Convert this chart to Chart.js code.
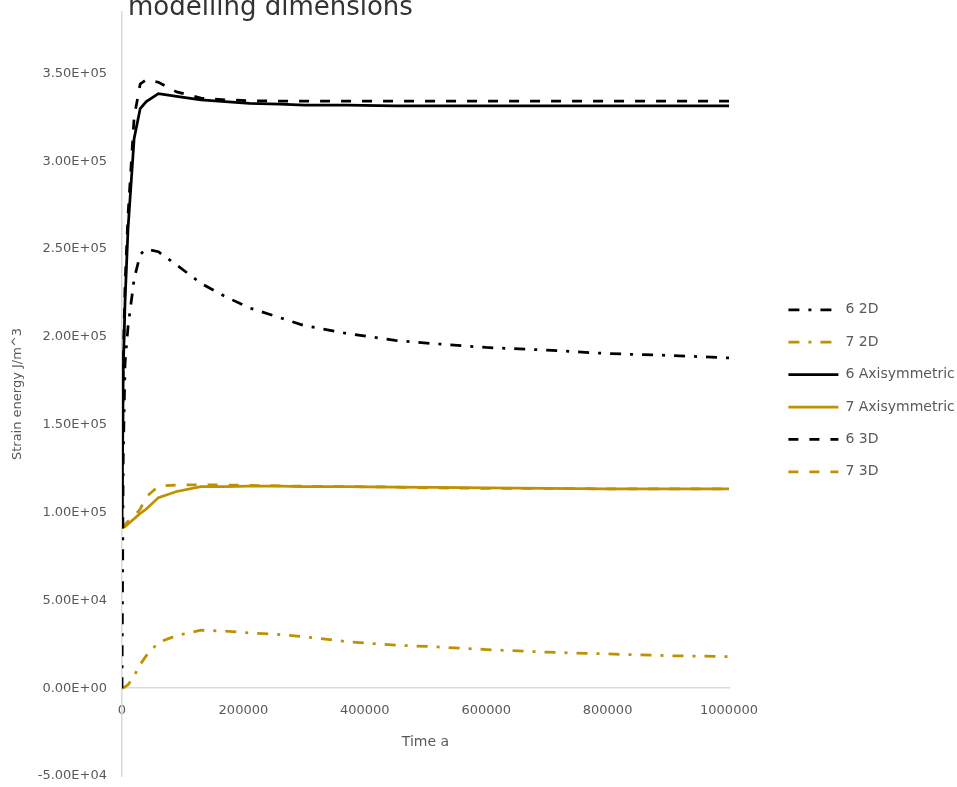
<!DOCTYPE html>
<html>
<head>
<meta charset="utf-8">
<script src="https://cdn.jsdelivr.net/npm/chart.js@4/dist/chart.umd.min.js"></script>
<style>
  html, body { margin: 0; padding: 0; background: #ffffff; }
  #wrap { width: 957px; height: 787px; position: relative; }
</style>
</head>
<body>
<div id="wrap"><canvas id="chart" width="957" height="787"></canvas></div>
<script>
// Time points (a) shared by every series
const times = [0, 2000, 5000, 10000, 20000, 30000, 40000, 60000, 90000, 130000, 170000,
  210000, 260000, 300000, 370000, 450000, 520000, 600000, 700000, 800000, 900000, 1000000];

// Strain energy (J/m^3) for each modelling dimension
const s6_2D = [0, 130000, 185000, 206000, 233000, 247000, 250000, 248500, 241000, 230500, 223000,
  216500, 211000, 206500, 202000, 198000, 196000, 194000, 192500, 190500, 189500, 188000];
const s7_2D = [0, 300, 800, 2000, 7000, 13500, 18500, 26000, 30000, 33000, 32500,
  31500, 30500, 29300, 26500, 24500, 23500, 22000, 20500, 19500, 18500, 18000];
const s6_Axi = [91000, 180000, 220000, 262000, 313000, 330000, 334000, 338500, 337000, 335000, 334000,
  333000, 332500, 332000, 332000, 331500, 331500, 331500, 331500, 331500, 331500, 331500];
const s7_Axi = [91500, 91500, 92000, 93500, 96500, 99500, 102000, 108500, 112000, 114700, 114800,
  115000, 115000, 114800, 114700, 114500, 114300, 114000, 113700, 113500, 113500, 113500];
const s6_3D = [91000, 185000, 230000, 270000, 325000, 344000, 346500, 345000, 339500, 336000, 335000,
  334500, 334300, 334300, 334300, 334300, 334300, 334300, 334300, 334300, 334300, 334300];
const s7_3D = [91500, 92000, 93000, 95000, 98000, 102000, 109000, 115000, 115700, 115700, 115700,
  115500, 115200, 115000, 114800, 114500, 114000, 113800, 113700, 113500, 113500, 113500];

const seriesNames = ['6 2D', '7 2D', '6 Axisymmetric', '7 Axisymmetric', '6 3D', '7 3D'];
const xTicks = [0, 200000, 400000, 600000, 800000, 1000000];
const yTicks = [-50000, 0, 50000, 100000, 150000, 200000, 250000, 300000, 350000];

const BLACK = '#000000';
const GOLD = '#BF9000';
const DASH_DOT = [11, 9, 3, 9];
const DASH = [10, 11];
const FONT = 'DejaVu Sans';
const GREY = '#595959';

function pts(values) {
  return times.map((t, i) => ({ x: t, y: values[i] }));
}

function sci(v) {
  const [m, e] = Number(v).toExponential(2).split('e');
  const sign = e[0] === '-' ? '-' : '+';
  const digits = e.replace(/^[+-]/, '').padStart(2, '0');
  return m + 'E' + sign + digits;
}

function line(label, values, color, dash) {
  return {
    label, data: pts(values), borderColor: color, backgroundColor: color,
    borderWidth: 2.75, borderDash: dash, pointRadius: 0, pointHoverRadius: 0,
    tension: 0, fill: false, yAxisID: 'y', xAxisID: 'x'
  };
}

// Legend entries drawn as short line samples carrying each series' dash pattern
function legendLabels(chart) {
  const items = Chart.defaults.plugins.legend.labels.generateLabels(chart);
  items.forEach(it => {
    const ds = chart.data.datasets[it.datasetIndex];
    it.lineDash = ds.borderDash;
    it.strokeStyle = ds.borderColor;
    it.fillStyle = ds.borderColor;
    it.lineWidth = ds.borderWidth;
    it.pointStyle = 'line';
  });
  return items;
}

// Second line of the chart title, sitting at the top edge of the canvas
const headline = {
  id: 'headline',
  afterDraw(chart) {
    const ctx = chart.ctx;
    ctx.save();
    ctx.font = '26px "' + FONT + '"';
    ctx.fillStyle = '#333333';
    ctx.textBaseline = 'alphabetic';
    ctx.textAlign = 'left';
    ctx.fillText('modelling dimensions', 128, 15);
    ctx.restore();
  }
};

new Chart(document.getElementById('chart'), {
  type: 'line',
  data: {
    datasets: [
      line(seriesNames[0], s6_2D, BLACK, DASH_DOT),
      line(seriesNames[1], s7_2D, GOLD, DASH_DOT),
      line(seriesNames[2], s6_Axi, BLACK, []),
      line(seriesNames[3], s7_Axi, GOLD, []),
      line(seriesNames[4], s6_3D, BLACK, DASH),
      line(seriesNames[5], s7_3D, GOLD, DASH)
    ]
  },
  options: {
    responsive: false,
    animation: false,
    devicePixelRatio: 1,
    layout: { padding: { top: 12, bottom: 11, left: 0, right: 0 } },
    plugins: {
      tooltip: { enabled: false },
      legend: {
        position: 'right',
        align: 'start',
        maxWidth: 187,
        title: { display: true, text: '', padding: { top: 0, bottom: 258, left: 0, right: 0 } },
        labels: {
          usePointStyle: true,
          pointStyle: 'line',
          pointStyleWidth: 50,
          padding: 18.4,
          color: GREY,
          font: { family: FONT, size: 14 },
          generateLabels: legendLabels
        }
      }
    },
    scales: {
      x: {
        type: 'linear',
        position: { y: 0 },
        min: 0,
        max: 1000000,
        afterBuildTicks: s => { s.ticks = xTicks.map(v => ({ value: v })); },
        ticks: {
          padding: 15, color: GREY, maxRotation: 0,
          font: { family: FONT, size: 13 },
          callback: v => String(v)
        },
        grid: { display: false, drawTicks: false },
        border: { display: true, color: '#d9d9d9', width: 1.5 },
        title: {
          display: true, text: 'Time a', color: GREY,
          font: { family: FONT, size: 14 }, padding: { top: 0, bottom: 0 }
        }
      },
      y: {
        type: 'linear',
        position: 'left',
        min: -50000,
        max: 385000,
        afterBuildTicks: s => { s.ticks = yTicks.map(v => ({ value: v })); },
        afterFit: s => { s.width = 122; s.paddingTop = 0; s.paddingBottom = 0; },
        ticks: {
          padding: 15, color: GREY,
          font: { family: FONT, size: 13 },
          callback: v => sci(v)
        },
        grid: { display: false, drawTicks: false },
        border: { display: true, color: '#d9d9d9', width: 1.5 },
        title: {
          display: true, text: 'Strain energy J/m^3', color: GREY,
          font: { family: FONT, size: 13 }, padding: { top: 10, bottom: 0 }
        }
      },
      gap: {
        type: 'linear',
        axis: 'y',
        position: 'right',
        display: true,
        afterFit: s => { s.width = 41; s.paddingTop = 0; s.paddingBottom = 0; },
        ticks: { display: false },
        grid: { display: false, drawTicks: false },
        border: { display: false }
      }
    }
  },
  plugins: [headline]
});
</script>
</body>
</html>
